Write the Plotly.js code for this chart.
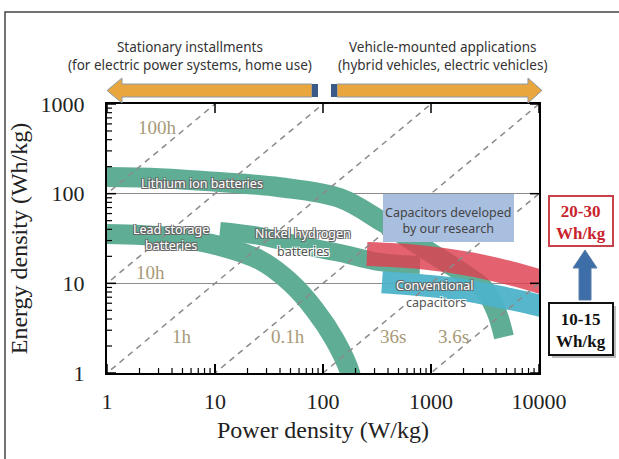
<!DOCTYPE html>
<html>
<head>
<meta charset="utf-8">
<script src="https://cdn.plot.ly/plotly-3.0.1.min.js"></script>
<style>html,body{margin:0;padding:0;background:#fff;}#chart{width:619px;height:459px;}</style>
</head>
<body>
<div id="chart"></div>
<script>
// ---------- data (power density W/kg, energy density Wh/kg) ----------
const xTickVals = [1, 10, 100, 1000, 10000];
const xTickText = ["1", "10", "100", "1000", "10000"];
const yTickVals = [1, 10, 100, 1000];
const yTickText = ["1", "10", "100", "1000"];

const lithiumP = [1, 3.1, 11.1, 40, 144, 359, 979, 2296, 3160, 4085, 4740];
const lithiumE = [153, 149, 135, 118, 89, 48, 22.3, 11.5, 8.4, 4.67, 2.52];

const leadP = [1, 3.83, 11.1, 26, 49.5, 84.3, 129, 178, 186];
const leadE = [35.5, 32.8, 26.1, 18.2, 10.3, 5.04, 2.33, 1, 0.65];

const nickelP = [11.1, 26, 61, 144, 337, 791];
const nickelE = [38.3, 33.7, 26.7, 21.8, 17.3, 16];

const newCapP = [255, 791, 2296, 5390, 12000];
const newCapE = [21.2, 19.6, 16.4, 13, 9.9];

const convCapP = [352, 979, 2296, 5390, 12000];
const convCapE = [10.3, 9.33, 8.2, 6.68, 5.4];

const hourLines = [100, 10, 1, 0.1, 0.01, 0.001];
const hourLabels = ["100h", "10h", "1h", "0.1h", "36s", "3.6s"];

// ---------- layout helpers (pixel -> paper) ----------
const L = 107, R = 539, T = 104, B = 373;
const px = x => (x - L) / (R - L);
const py = y => (B - y) / (B - T);
function poly(pts) {
  return pts.map((p, i) => (i ? 'L' : 'M') + px(p[0]).toFixed(4) + ',' + py(p[1]).toFixed(4)).join(' ') + ' Z';
}

const serif = 'Liberation Serif, Times New Roman, serif';
const sans = 'Noto Sans, Open Sans, sans-serif';
const green = '#60ad95';

const traces = [];
function band(P, E, color, width, opacity) {
  traces.push({x: P, y: E, type: 'scatter', mode: 'lines', hoverinfo: 'skip',
    line: {color: color, width: width, shape: 'spline', smoothing: 1}, opacity: opacity, showlegend: false});
}
band(lithiumP, lithiumE, green, 20, 1);
band(leadP, leadE, green, 20, 1);
band(nickelP, nickelE, green, 18, 1);
band(newCapP, newCapE, '#de4050', 24, 0.82);
band(convCapP, convCapE, '#4db3c9', 22, 0.95);

hourLines.forEach(t => {
  traces.push({x: [0.01, 1e5], y: [0.01 * t, 1e5 * t], type: 'scatter', mode: 'lines', hoverinfo: 'skip',
    line: {color: '#8a8a8a', width: 1.5, dash: '6px,5px'}, showlegend: false});
});

const outline = '-1px -1px 0 #666, 1px -1px 0 #666, -1px 1px 0 #666, 1px 1px 0 #666';
const whiteline = '-1px -1px 0 #fff, 1px -1px 0 #fff, -1px 1px 0 #fff, 1px 1px 0 #fff';

const ann = [];
function txt(text, x, y, font, extra) {
  ann.push(Object.assign({text: text, xref: 'paper', yref: 'paper', x: px(x), y: py(y),
    xanchor: 'center', yanchor: 'middle', showarrow: false, font: font}, extra || {}));
}
// top texts
const topFont = {family: sans, size: 13.5, color: '#333'};
txt('Stationary installments<br>(for electric power systems, home use)', 190, 56, topFont);
txt('Vehicle-mounted applications<br>(hybrid vehicles, electric vehicles)', 442, 56, topFont);
// hour labels
const hourPos = [[157, 127], [150, 272], [182, 336], [288, 336], [393, 336], [453, 336]];
hourLabels.forEach((h, i) => txt(h, hourPos[i][0], hourPos[i][1], {family: serif, size: 19, color: '#a89a78'}));
// band labels
const wFont = {family: sans, size: 12.5, color: '#ffffff', shadow: outline};
const gFont = {family: sans, size: 12.5, color: '#555555', shadow: whiteline};
txt('Lithium ion batteries', 202, 183, wFont);
txt('Lead storage<br>batteries', 171, 237, wFont);
txt('Nickel hydrogen', 303, 233, wFont);
txt('batteries', 303, 251, gFont);
txt('Conventional', 435, 285, wFont);
txt('capacitors', 436, 302, gFont);
txt('Capacitors developed<br>by our research', 448, 220, {family: sans, size: 12.5, color: '#444'});
// right boxes
txt('<b>20-30</b><br><b>Wh/kg</b>', 581, 222, {family: serif, size: 17, color: '#c8232d'});
txt('<b>10-15</b><br><b>Wh/kg</b>', 581, 330, {family: serif, size: 17, color: '#111'});

const shapes = [
  // outer frame
  {type: 'rect', xref: 'paper', yref: 'paper', x0: px(5), x1: px(700), y0: py(12), y1: py(520),
   line: {color: '#444', width: 1.5}, layer: 'below'},
  // capacitors box
  {type: 'rect', xref: 'paper', yref: 'paper', x0: px(383), x1: px(514), y0: py(194), y1: py(242),
   fillcolor: '#a9bfe0', line: {width: 0}, layer: 'above'},
  // left orange arrow
  {type: 'path', xref: 'paper', yref: 'paper', layer: 'above',
   path: poly([[107, 90.5], [122, 78], [122, 84], [312, 84], [312, 97], [122, 97], [122, 103]]),
   fillcolor: '#e9a63e', line: {color: '#8d9aa8', width: 1}},
  {type: 'rect', xref: 'paper', yref: 'paper', x0: px(312), x1: px(318), y0: py(84), y1: py(97),
   fillcolor: '#3a5a8a', line: {width: 0}},
  // right orange arrow
  {type: 'path', xref: 'paper', yref: 'paper', layer: 'above',
   path: poly([[337, 84], [528, 84], [528, 78], [542, 90.5], [528, 103], [528, 97], [337, 97]]),
   fillcolor: '#e9a63e', line: {color: '#8d9aa8', width: 1}},
  {type: 'rect', xref: 'paper', yref: 'paper', x0: px(331), x1: px(337), y0: py(84), y1: py(97),
   fillcolor: '#3a5a8a', line: {width: 0}},
  // red box
  {type: 'rect', xref: 'paper', yref: 'paper', x0: px(549), x1: px(613), y0: py(196), y1: py(246),
   fillcolor: '#fff', line: {color: '#c8404a', width: 2}},
  // blue up arrow
  {type: 'path', xref: 'paper', yref: 'paper',
   path: poly([[585, 250], [597, 268], [591, 268], [591, 300], [579, 300], [579, 268], [573, 268]]),
   fillcolor: '#3d6ea8', line: {color: '#5a7ea8', width: 1}},
  // black box shadow + box
  {type: 'rect', xref: 'paper', yref: 'paper', x0: px(552), x1: px(616), y0: py(306), y1: py(358),
   fillcolor: '#bbb', line: {width: 0}},
  {type: 'rect', xref: 'paper', yref: 'paper', x0: px(549), x1: px(613), y0: py(303), y1: py(355),
   fillcolor: '#fff', line: {color: '#111', width: 2}}
];

// ---------- tick marks (drawn on the axes' own scales) ----------
const majorLenX = 9 / (B - T), minorLenX = 5 / (B - T);
const majorLenY = 9 / (R - L), minorLenY = 5 / (R - L);
const tickLine = w => ({color: '#000', width: w});
xTickVals.forEach(v => {
  shapes.push({type: 'line', xref: 'x', yref: 'paper', x0: v, x1: v, y0: 0, y1: majorLenX, line: tickLine(1.5), layer: 'above'});
  shapes.push({type: 'line', xref: 'x', yref: 'paper', x0: v, x1: v, y0: 1, y1: 1 - majorLenX, line: tickLine(1.5), layer: 'above'});
  if (v < 10000) for (let k = 2; k <= 9; k++) {
    shapes.push({type: 'line', xref: 'x', yref: 'paper', x0: v * k, x1: v * k, y0: 0, y1: minorLenX, line: tickLine(1.2), layer: 'above'});
  }
});
yTickVals.forEach(v => {
  shapes.push({type: 'line', xref: 'paper', yref: 'y', x0: 0, x1: majorLenY, y0: v, y1: v, line: tickLine(1.5), layer: 'above'});
  shapes.push({type: 'line', xref: 'paper', yref: 'y', x0: 1, x1: 1 - majorLenY, y0: v, y1: v, line: tickLine(1.5), layer: 'above'});
  if (v < 1000) for (let k = 2; k <= 9; k++) {
    shapes.push({type: 'line', xref: 'paper', yref: 'y', x0: 0, x1: minorLenY, y0: v * k, y1: v * k, line: tickLine(1.2), layer: 'above'});
  }
});

const axisCommon = {
  type: 'log', showline: true, linecolor: '#000', linewidth: 2, mirror: true,
  ticks: 'inside', ticklen: 9, tickwidth: 1.5, tickcolor: '#000',
  tickfont: {family: serif, size: 22, color: '#222'}, fixedrange: true, zeroline: false
};

const layout = {
  width: 619, height: 459,
  margin: {l: L, r: 619 - R, t: T, b: 459 - B},
  paper_bgcolor: '#fff', plot_bgcolor: '#fff',
  showlegend: false,
  xaxis: Object.assign({}, axisCommon, {
    range: [0, 4], tickmode: 'array', tickvals: xTickVals, ticktext: xTickText, showgrid: false,
    ticklabelstandoff: 8,
    title: {text: 'Power density (W/kg)', font: {family: serif, size: 24, color: '#222'}, standoff: 8}
  }),
  yaxis: Object.assign({}, axisCommon, {
    range: [0, 3], tickmode: 'array', tickvals: yTickVals, ticktext: yTickText,
    showgrid: true, gridcolor: '#8c8c8c', gridwidth: 1.5, ticklabelstandoff: 16,
    title: {text: 'Energy density (Wh/kg)', font: {family: serif, size: 24, color: '#222'}, standoff: 6}
  }),
  shapes: shapes,
  annotations: ann
};

Plotly.newPlot('chart', traces, layout, {staticPlot: true, displayModeBar: false});
</script>
</body>
</html>
